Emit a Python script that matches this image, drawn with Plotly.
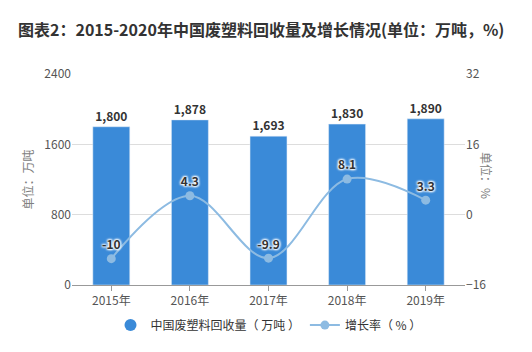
import plotly.graph_objects as go

years = ["2015年", "2016年", "2017年", "2018年", "2019年"]
volume = [1800, 1878, 1693, 1830, 1890]
growth = [-10, 4.3, -9.9, 8.1, 3.3]
volume_labels = ["1,800", "1,878", "1,693", "1,830", "1,890"]
growth_labels = ["-10", "4.3", "-9.9", "8.1", "3.3"]

font_family = "Microsoft YaHei, Noto Sans CJK SC, sans-serif"
bar_color = "#3a8ad8"
line_color = "#8dbbe2"
halo = "1px 1px 2px white, -1px -1px 2px white, 1px -1px 2px white, -1px 1px 2px white"

fig = go.Figure()
fig.add_trace(go.Bar(
    x=years, y=volume, name="中国废塑料回收量（万吨）", showlegend=False,
    marker=dict(color=bar_color), width=0.47,
    text=volume_labels, textposition="outside", cliponaxis=False,
    textfont=dict(size=12, color="#333333", family=font_family, weight="bold", shadow=halo),
))
# legend entry with circle marker for the bar series
fig.add_trace(go.Scatter(
    x=[None], y=[None], mode="markers", name="中国废塑料回收量（ 万吨 ）",
    marker=dict(size=12, color=bar_color, symbol="circle"),
))
fig.add_trace(go.Scatter(
    x=years, y=growth, name="增长率（ % ）", yaxis="y2",
    mode="lines+markers+text", line=dict(color=line_color, width=2, shape="spline", smoothing=1.0),
    marker=dict(size=9, color=line_color),
    text=growth_labels, textposition="top center",
    textfont=dict(size=12, color="#333333", family=font_family, weight="bold", shadow=halo),
))

fig.update_layout(
    width=532, height=352,
    margin=dict(l=72, r=67, t=74, b=65),
    paper_bgcolor="white", plot_bgcolor="white",
    font=dict(family=font_family, size=12, color="#666666"),
    title=dict(text="<b>图表2：2015-2020年中国废塑料回收量及增长情况(单位：万吨，%)</b>",
               x=18/532, xanchor="left", y=1 - 30/352, yanchor="middle",
               font=dict(size=16, color="#333333", family=font_family)),
    bargap=0.53,
    showlegend=True,
    legend=dict(orientation="h", x=0.5, xanchor="center", y=-0.19, yanchor="middle",
                font=dict(size=12, color="#333333"), itemwidth=30),
    xaxis=dict(showline=True, linecolor="#999999", ticks="outside", tickcolor="#999999",
               ticklen=5, tickfont=dict(size=12, color="#555555")),
    yaxis=dict(range=[0, 2400], tickvals=[0, 800, 1600, 2400], showgrid=True,
               gridcolor="#dddddd", zeroline=False, tickfont=dict(size=12, color="#555555"),
               title=dict(text="单位：万吨", font=dict(size=12, color="#808080"), standoff=8)),
    yaxis2=dict(range=[-16, 32], tickvals=[-16, 0, 16, 32], overlaying="y", side="right",
                showgrid=False, zeroline=False, tickfont=dict(size=12, color="#555555")),
    annotations=[dict(text="单位：%", xref="paper", yref="paper", x=(487 - 72) / (532 - 72 - 67),
                      y=(287 - 176) / 213, xanchor="center", yanchor="middle", textangle=90,
                      showarrow=False, font=dict(size=12, color="#808080"))],
)

fig.write_html("out.html")
